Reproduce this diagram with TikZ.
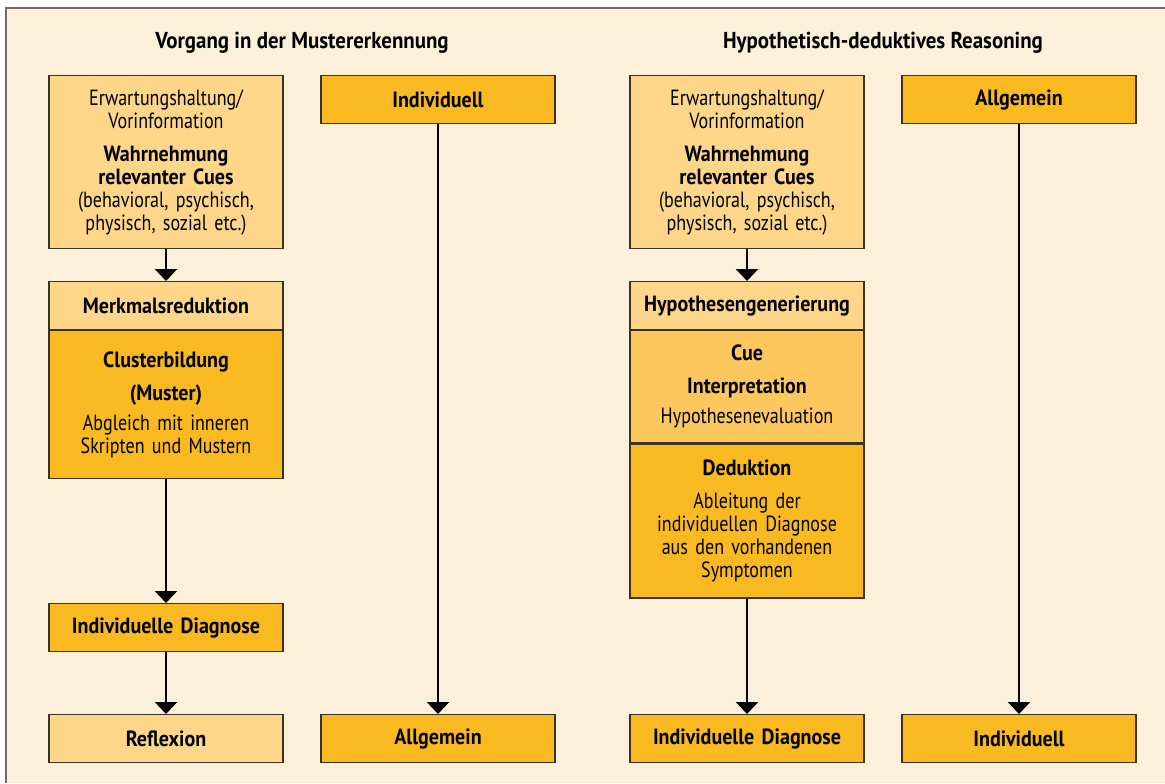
\documentclass[tikz,border=0pt]{standalone}
\usepackage{fontspec}
\setmainfont{PT Sans}[FakeStretch=0.82, BoldFeatures={FakeStretch=0.91}]
\usepackage{xcolor}
\usepackage{tikz}
\usetikzlibrary{positioning, arrows.meta}
\definecolor{boxlight}{HTML}{FDD68A}
\definecolor{boxmid}{HTML}{FCC85E}
\definecolor{boxdark}{HTML}{F9BA21}
\definecolor{panelbg}{HTML}{FDF0DB}
\definecolor{framegray}{HTML}{6E6E6E}
\definecolor{edgegray}{HTML}{3A3325}

\begin{document}
\begin{tikzpicture}[
        x=0.5pt, y=-0.5pt,
        font=\fontsize{11}{11.5}\selectfont,
        stage/.style={rectangle, draw=edgegray, line width=0.6pt,
                minimum width=117pt, minimum height=24pt, text width=112pt,
                align=center, inner sep=0pt, anchor=north},
        light/.style={stage, fill=boxlight},
        mid/.style={stage, fill=boxmid},
        dark/.style={stage, fill=boxdark},
        heading/.style={font=\fontsize{11.5}{12}\selectfont\bfseries},
        arr/.style={-{Triangle[width=11pt, length=6pt]}, line width=1.25pt,
                black},
    ]

    \useasboundingbox (0,0) rectangle (1165,783);
    \fill[panelbg] (6,8) rectangle (1165,783);
    \draw[framegray, line width=0.6pt] (6,783) -- (6,8) -- (1165,8);

    % pattern recognition
    \node[heading] (titleA) at (302,43) {Vorgang in der Mustererkennung};

    \node[light, minimum height=86.5pt] (top1) at (166,75) {%
        Erwartungshaltung/\\ Vorinformation\\[5pt]
        \textbf{Wahrnehmung}\\ \textbf{relevanter Cues}\\
        (behavioral, psychisch,\\ physisch, sozial etc.)};
    \node[light] (merk) at (166,281) {\textbf{Merkmalsreduktion}};
    \node[dark, minimum height=74pt, below=0pt of merk] (clus) {%
        \textbf{Clusterbildung}\\[5pt] \textbf{(Muster)}\\[3.5pt]
        Abgleich mit inneren\\ Skripten und Mustern};
    \node[dark] (diagA) at (166,603) {\textbf{Individuelle Diagnose}};
    \node[light] (reflex) at (166,714) {\textbf{Reflexion}};

    \node[dark] (indivA) at (438,75) {\textbf{Individuell}};
    \node[dark] (allgA) at (438,714) {\textbf{Allgemein}};

    \draw[arr] (top1.south) -- (merk.north);
    \draw[arr] (clus.south) -- (diagA.north);
    \draw[arr] (diagA.south) -- (reflex.north);
    \draw[arr] (indivA.south) -- (allgA.north);

    % hypothetico-deductive reasoning
    \node[heading] (titleB) at (883,43) {Hypothetisch-deduktives Reasoning};

    \node[light, minimum height=86.5pt] (top2) at (747,75) {%
        Erwartungshaltung/\\ Vorinformation\\[5pt]
        \textbf{Wahrnehmung}\\ \textbf{relevanter Cues}\\
        (behavioral, psychisch,\\ physisch, sozial etc.)};
    \node[light] (hypo) at (747,281) {\textbf{Hypothesengenerierung}};
    \node[mid, minimum height=56pt, below=0pt of hypo] (interp) {%
        \textbf{Cue}\\[5pt] \textbf{Interpretation}\\[3.5pt]
        Hypothesenevaluation};
    \node[dark, minimum height=77pt, below=0pt of interp] (deduk) {%
        \textbf{Deduktion}\\[5pt] Ableitung der\\
        individuellen Diagnose\\ aus den vorhandenen\\ Symptomen};
    \node[dark] (diagB) at (747,714) {\textbf{Individuelle Diagnose}};

    \node[dark] (allgB) at (1019,75) {\textbf{Allgemein}};
    \node[dark] (indivB) at (1019,714) {\textbf{Individuell}};

    \draw[arr] (top2.south) -- (hypo.north);
    \draw[arr] (deduk.south) -- (diagB.north);
    \draw[arr] (allgB.south) -- (indivB.north);
\end{tikzpicture}
\end{document}
